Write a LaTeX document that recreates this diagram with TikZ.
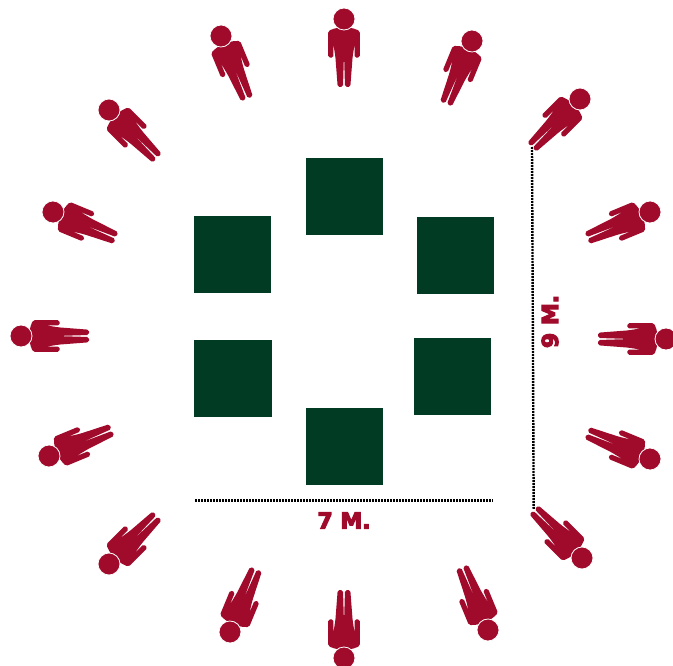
\documentclass[tikz,border=0pt]{standalone}
\usepackage{fontspec}
\setmainfont{DejaVu Sans}
\newfontfamily\heavyfont[FakeBold=5]{DejaVu Sans Bold}
\definecolor{personred}{HTML}{A00A2B}
\definecolor{tablegreen}{HTML}{023B24}
\tikzset{
    person/.pic={
        \fill[personred,rounded corners=1.8pt]
        (0,8)--(8,9)--(15.8,11.8)--(15.8,38.7)--(10.6,38.7)--(10.6,25)--(8.6,38)
        --(6.3,68)--(1,68)--(0.1,38)--(-0.1,38)--(-1,68)--(-6.3,68)
        --(-8.6,38)--(-10.6,25)--(-10.6,38.7)--(-15.8,38.7)--(-15.8,11.8)--(-8,9)--cycle;
        \draw[fill=personred,draw=white,line width=0.8pt] (0,0) circle (11);
    },
    tablebox/.style={fill=tablegreen,inner sep=0pt,minimum width=#1,minimum height=77pt},
    tablebox/.default=77pt,
    dimline/.style={line width=2.4pt,dash pattern=on 1.8pt off 1.2pt},
    dimlabel/.style={text=personred,font=\heavyfont\fontsize{22}{22}\selectfont,inner sep=0pt}
}
\begin{document}
\begin{tikzpicture}
    [x=1pt,y=-1pt]
    \useasboundingbox (0,0) rectangle (673,666);
    %tables
    \node[tablebox] (tabletop) at (344.5,196.5) {};
    \node[tablebox] (tableleftup) at (232.5,254.5) {};
    \node[tablebox] (tablerightup) at (455.5,255.5) {};
    \node[tablebox=78pt] (tableleftdown) at (233,378.5) {};
    \node[tablebox] (tablerightdown) at (452.5,376.5) {};
    \node[tablebox] (tablebottom) at (344.5,446.5) {};
    %dimensions
    \coordinate (widthstart) at (195,500.3);
    \coordinate (widthend) at (493,500.3);
    \coordinate (heightstart) at (532,147);
    \coordinate (heightend) at (533.7,509);
    \draw[dimline] (widthstart)--(widthend);
    \draw[dimline] (heightstart)--(heightend);
    \node[dimlabel] (widthlabel) at (344,520.5) {7 M.};
    \node[dimlabel,rotate=90] (heightlabel) at (550,321.5) {9 M.};
    %persons
    \pic[rotate=0] at (344,19) {person};
    \pic[rotate=-22.5] at (472,41) {person};
    \pic[rotate=-45] at (580,99) {person};
    \pic[rotate=-67.5] at (650,212) {person};
    \pic[rotate=-90] at (666,339) {person};
    \pic[rotate=-112.5] at (650,459) {person};
    \pic[rotate=-135] at (582,558) {person};
    \pic[rotate=-157.5] at (488,630) {person};
    \pic[rotate=180] at (344,658) {person};
    \pic[rotate=157.5] at (230,632) {person};
    \pic[rotate=135] at (109,564) {person};
    \pic[rotate=112.5] at (49,456) {person};
    \pic[rotate=90] at (21,336) {person};
    \pic[rotate=67.5] at (53,212) {person};
    \pic[rotate=45] at (109,110) {person};
    \pic[rotate=22.5] at (221,36) {person};
\end{tikzpicture}
\end{document}
